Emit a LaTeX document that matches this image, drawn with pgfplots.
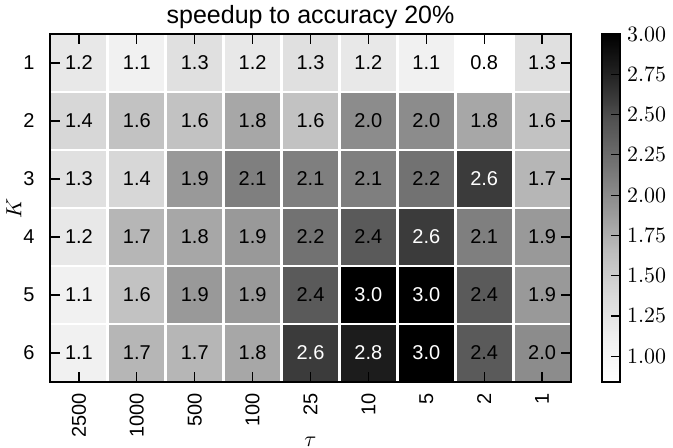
\documentclass[border=0pt]{standalone}
\usepackage{pgfplots}
\pgfplotsset{compat=1.18}
\usepackage{pgfplotstable}
\usepackage{fontspec}
\setmainfont{Liberation Sans}

% columns: tau index, K, speedup, text colour (1 = white)
\pgfplotstableread{
x y v w
0 1 1.2 0
1 1 1.1 0
2 1 1.3 0
3 1 1.2 0
4 1 1.3 0
5 1 1.2 0
6 1 1.1 0
7 1 0.84 0
8 1 1.3 0
0 2 1.4 0
1 2 1.6 0
2 2 1.6 0
3 2 1.8 0
4 2 1.6 0
5 2 2.0 0
6 2 2.0 0
7 2 1.8 0
8 2 1.6 0
0 3 1.3 0
1 3 1.4 0
2 3 1.9 0
3 3 2.1 0
4 3 2.1 0
5 3 2.1 0
6 3 2.2 0
7 3 2.6 1
8 3 1.7 0
0 4 1.2 0
1 4 1.7 0
2 4 1.8 0
3 4 1.9 0
4 4 2.2 0
5 4 2.4 0
6 4 2.6 1
7 4 2.1 0
8 4 1.9 0
0 5 1.1 0
1 5 1.6 0
2 5 1.9 0
3 5 1.9 0
4 5 2.4 0
5 5 3.0 1
6 5 3.0 1
7 5 2.4 0
8 5 1.9 0
0 6 1.1 0
1 6 1.7 0
2 6 1.7 0
3 6 1.8 0
4 6 2.6 1
5 6 2.8 1
6 6 3.0 1
7 6 2.4 0
8 6 2.0 0
}\speedup

\pgfplotsset{
    celltext/.style={draw=none, mark=none, point meta=\thisrow{v},
        nodes near coords={\pgfmathprintnumber[fixed,fixed zerofill,precision=1,assume math mode=true]{\pgfplotspointmeta}},
        nodes near coords style={anchor=center, font=\fontsize{10}{12}\selectfont, text=#1}},
}

\begin{document}
\begin{tikzpicture}
\begin{axis}[
    at={(0pt,0pt)}, anchor=south west,
    width=260.5pt, height=174pt, scale only axis,
    xmin=-0.5, xmax=8.5, ymin=0.5, ymax=6.5,
    y dir=reverse,
    xtick={0,...,8},
    xticklabels={2500,1000,500,100,25,10,5,2,1},
    ytick={1,...,6},
    yticklabels={1,2,3,4,5,6},
    tick label style={font=\fontsize{10}{12}\selectfont},
    xticklabel style={rotate=90, anchor=east, inner sep=0pt, xshift=-5.5pt},
    yticklabel style={anchor=east, inner sep=0pt, xshift=-7.5pt},
    tick align=inside,
    major tick length=5pt,
    tick style={black, line width=0.6pt},
    axis line style={line width=1pt},
    minor xtick={0.5,1.5,...,7.5},
    minor ytick={1.5,2.5,...,5.5},
    minor tick length=0pt,
    xminorgrids, yminorgrids,
    minor grid style={white, line width=1.4pt},
    axis on top,
    title={speedup to accuracy 20\%},
    title style={at={(0.5,1)}, anchor=base, yshift=-0.5pt, font=\fontsize{12.5}{15}\selectfont},
    xlabel={$\tau$},
    xlabel style={at={(axis description cs:0.5,0)}, anchor=base, yshift=-32pt, font=\fontsize{10.5}{12}\selectfont},
    ylabel={$K$},
    ylabel style={at={(axis description cs:0,0.5)}, anchor=center, yshift=18pt, font=\fontsize{10.5}{12}\selectfont},
    colormap={greys}{gray(0cm)=(1); gray(1cm)=(0.941); gray(2cm)=(0.851);
        gray(3cm)=(0.741); gray(4cm)=(0.588); gray(5cm)=(0.451);
        gray(6cm)=(0.322); gray(7cm)=(0.145); gray(8cm)=(0)},
    point meta min=0.84, point meta max=3.0,
    colorbar,
    colorbar style={
        at={(parent axis.north east)}, anchor=north west, xshift=7pt,
        width=9pt,
        ytick={1,1.25,...,3},
        yticklabel={\pgfmathprintnumber[fixed,fixed zerofill,precision=2]{\tick}},
        yticklabel style={font=\fontsize{10.5}{12}\selectfont},
        ytick pos=right, yticklabel pos=right,
        tick align=inside, major tick length=4.5pt,
        tick style={black, line width=0.6pt},
        axis line style={line width=1pt},
    },
]
\addplot[matrix plot*, mesh/cols=9, point meta=\thisrow{v}] table[x=x, y=y] {\speedup};
\addplot[celltext=black, restrict expr to domain={\thisrow{w}}{0:0.5}] table[x=x, y=y] {\speedup};
\addplot[celltext=white, restrict expr to domain={\thisrow{w}}{0.5:1}] table[x=x, y=y] {\speedup};
\end{axis}
\pgfresetboundingbox
\useasboundingbox (-25pt,-33pt) rectangle (311.5pt,191pt);
\end{tikzpicture}
\end{document}
